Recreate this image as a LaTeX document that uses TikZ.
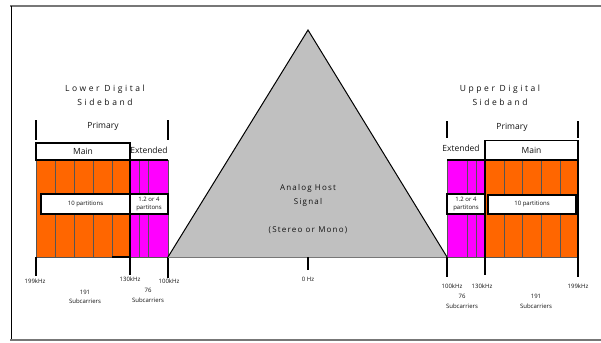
\documentclass[tikz,border=0pt]{standalone}
\usepackage{fontspec}
\setmainfont{Open Sans}
\definecolor{orng}{HTML}{FF6600}
\definecolor{mgnt}{HTML}{FF00FF}
\definecolor{hostgray}{HTML}{C0C0C0}
\definecolor{divgray}{HTML}{555555}
\definecolor{framegray}{HTML}{777777}
\definecolor{txt}{HTML}{111111}
\begin{document}
\begin{tikzpicture}[x=1pt,y=-1pt,
  lbl/.style={font=\fontsize{6}{9.5}\selectfont, text=txt, align=center, inner sep=0},
  ttl/.style={font=\fontsize{8.5}{14}\selectfont\addfontfeature{LetterSpace=30}, text=txt, align=center, inner sep=0},
  hdr/.style={font=\fontsize{8.5}{10}\selectfont, text=txt, inner sep=0},
  mainbox/.style={draw=black, line width=1.5pt, fill=white, inner sep=0, font=\fontsize{8.5}{10}\selectfont, text=txt},
  pbox/.style={draw=black, line width=1.5pt, fill=white, inner sep=0, align=center, font=\fontsize{6}{8}\selectfont, text=txt},
  divider/.style={draw=divgray, line width=1pt},
  tick/.style={draw=black, line width=2pt},
  hostlbl/.style={font=\fontsize{8}{14}\selectfont\addfontfeature{LetterSpace=15}, text=txt, align=center, inner sep=0}]
\useasboundingbox (0,0) rectangle (601,342);
% frame
\draw[framegray, line width=2pt] (10,6) -- (601,6);
\draw[black, line width=0.8pt] (11,6) -- (11,340);
\draw[framegray, line width=1.5pt] (10,340) -- (601,340);

% ---------- Lower sideband ----------
\fill[orng] (36,160) rectangle (130,257);
\fill[mgnt] (130,160) rectangle (168,257);
\foreach \x in {55,74,93,112} \draw[divider] (\x,160) -- (\x,257);
\foreach \x in {139,148} \draw[divider] (\x,160) -- (\x,257);
\draw[divider] (36,160) -- (36,257);
\draw[divider] (168,160) -- (168,257);
\draw[divgray, line width=1pt] (36,257) -- (168,257);
\draw[black, line width=1.5pt] (130,160) -- (130,257);
\draw[black, line width=1.5pt] (36,160) -- (168,160);
\draw[black, line width=1.5pt] (112,257) -- (130,257);
\node[mainbox, minimum width=94pt, minimum height=17pt] (lmain) at (83,151.5) {Main};
\node[hdr] (lext) at (149,150) {Extended};
\node[pbox, minimum width=89pt, minimum height=20pt] (lpart) at (85.5,204) {10 partitions};
\node[pbox, minimum width=38pt, minimum height=20pt] (lpext) at (149,204) {1.2 or 4\\partitons};
\draw[tick] (36,120) -- (36,140);
\draw[tick] (168,120) -- (168,140);
\node[hdr] (lprim) at (103,126) {Primary};
\node[ttl] (ltitle) at (105,95) {Lower Digital\\Sideband};
\draw[tick] (36,257) -- (36,276);
\draw[tick] (130,257) -- (130,275);
\draw[tick] (168,257) -- (168,278);
\node[lbl] (l199) at (35,281) {199kHz};
\node[lbl] (l130) at (130,279) {130kHz};
\node[lbl] (l100) at (169,281) {100kHz};
\node[lbl] (l191) at (85,297) {191\\Subcarriers};
\node[lbl] (l76) at (148,295.5) {76\\Subcarriers};

% ---------- Analog host ----------
\draw[black, line width=1pt, fill=hostgray] (168,257) -- (308,30) -- (447,257);
\draw[framegray, line width=1pt] (168,257) -- (447,257);
\draw[tick] (308,257) -- (308,270);
\node[hostlbl] (host) at (308,195) {Analog Host\\Signal};
\node[hostlbl] (mode) at (308,230) {(Stereo or Mono)};
\node[lbl] (zero) at (308,279) {0 Hz};

% ---------- Upper sideband ----------
\fill[mgnt] (447,160) rectangle (485,257);
\fill[orng] (485,160) rectangle (578,257);
\foreach \x in {467,476} \draw[divider] (\x,160) -- (\x,257);
\foreach \x in {504,522,541,560} \draw[divider] (\x,160) -- (\x,257);
\draw[divider] (447,160) -- (447,257);
\draw[black, line width=1.5pt] (485,160) -- (485,257);
\draw[black, line width=1.5pt] (578,160) -- (578,257);
\draw[black, line width=1.5pt] (447,160) -- (578,160);
\draw[divgray, line width=1pt] (447,257) -- (578,257);
\node[mainbox, minimum width=93pt, minimum height=19pt] (umain) at (531.5,150) {Main};
\node[hdr] (uext) at (461,148) {Extended};
\node[pbox, minimum width=38pt, minimum height=20pt] (upext) at (466,204) {1.2 or 4\\partitons};
\node[pbox, minimum width=88pt, minimum height=19pt] (upart) at (532,204.5) {10 partitions};
\draw[tick] (447,121) -- (447,138);
\draw[tick] (578,121) -- (578,138);
\node[hdr] (uprim) at (512,127) {Primary};
\node[ttl] (utitle) at (500,95) {Upper Digital\\Sideband};
\draw[tick] (447,257) -- (447,277);
\draw[tick] (485,257) -- (485,275);
\draw[tick] (578,257) -- (578,277);
\node[lbl] (u100) at (452,286) {100kHz};
\node[lbl] (u130) at (482,286) {130kHz};
\node[lbl] (u199) at (578,286) {199kHz};
\node[lbl] (u76) at (462,301.5) {76\\Subcarriers};
\node[lbl] (u191) at (536,301.5) {191\\Subcarriers};
\end{tikzpicture}
\end{document}
